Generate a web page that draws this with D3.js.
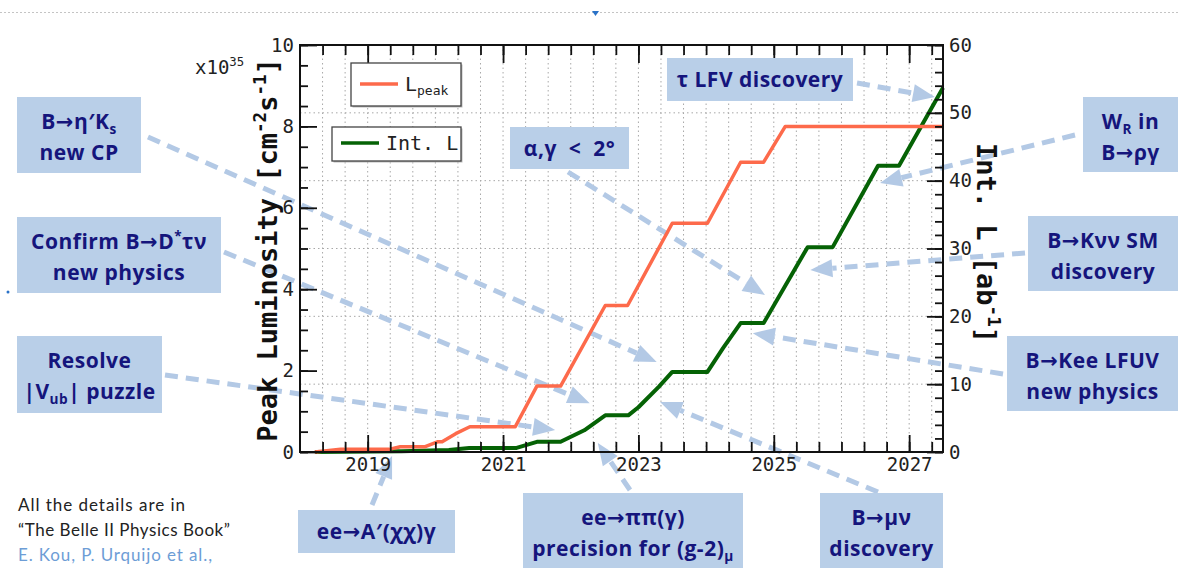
<!DOCTYPE html>
<html>
<head>
<meta charset="utf-8">
<script src="https://cdn.jsdelivr.net/npm/d3@7"></script>
<style>
  body { margin: 0; background: #fff; }
</style>
</head>
<body>
<svg id="chart" width="1178" height="569" font-family="DejaVu Sans Mono"></svg>
<script>
// peak luminosity (x10^35 cm-2 s-1), left axis
const peakYears = [2018.22, 2018.6, 2019.33, 2019.48, 2019.85, 2020.03, 2020.1, 2020.3, 2020.51, 2021.18, 2021.5, 2021.85, 2022.51, 2022.84, 2023.5, 2024.02, 2024.51, 2024.85, 2025.17, 2027.5]
const peakValues = [0, 0.07, 0.07, 0.13, 0.13, 0.25, 0.25, 0.45, 0.62, 0.62, 1.62, 1.62, 3.6, 3.6, 5.62, 5.62, 7.12, 7.12, 8.0, 8.0]

// integrated luminosity (ab-1), right axis
const intYears = [2018.22, 2019.5, 2020.2, 2020.5, 2021.2, 2021.5, 2021.85, 2022.2, 2022.51, 2022.85, 2023.0, 2023.3, 2023.5, 2024.02, 2024.25, 2024.51, 2024.85, 2025.5, 2025.87, 2026.54, 2026.85, 2027.5]
const intValues = [0, 0.1, 0.3, 0.6, 0.6, 1.5, 1.5, 3.2, 5.4, 5.4, 6.6, 9.6, 11.8, 11.8, 15.3, 19.0, 19.0, 30.2, 30.2, 42.2, 42.2, 53.7]

const xTickYears = [2019, 2021, 2023, 2025, 2027]
const xTickLabels = ['2019', '2021', '2023', '2025', '2027']
const leftTicks = [0, 2, 4, 6, 8, 10]
const rightTicks = [0, 10, 20, 30, 40, 50, 60]

// physics milestones: label lines, arrow tip in (year, peak-axis value)
const noteLabels = [
  ['B→η′K_{s}', 'new CP'],
  ['Confirm B→D^{*}τν', 'new physics'],
  ['Resolve', '|V_{ub}| puzzle'],
  ['α,γ  <  2°'],
  ['τ LFV discovery'],
  ['W_{R} in', 'B→ργ'],
  ['B→Kνν SM', 'discovery'],
  ['B→Kee LFUV', 'new physics'],
  ['ee→A′(χχ)γ'],
  ['ee→ππ(γ)', 'precision for (g-2)_{μ}'],
  ['B→μν', 'discovery']
]
const noteTipYears = [2023.27, 2022.28, 2021.77, 2024.87, 2027.38, 2026.57, 2025.54, 2024.69, 2019.36, 2022.40, 2023.32]
const noteTipValues = [2.21, 1.20, 0.54, 3.86, 8.72, 6.61, 4.47, 2.92, -0.1, 0.22, 1.23]

// layout of the boxes [x, y, w, h] and where each arrow leaves its box
const noteBoxes = [
  [17, 97, 124, 76], [17, 217, 204, 76], [17, 336, 145, 77], [510, 127, 119, 42],
  [667, 58, 186, 43], [1083, 97, 95, 75], [1028, 216, 150, 75], [1007, 336, 171, 75],
  [298, 510, 157, 43], [523, 493, 220, 75], [820, 493, 123, 75]
]
const noteStarts = [
  [148, 137], [224, 252], [165, 375], [568, 172], [857, 83], [1075, 135],
  [1025, 253], [1003, 374], [372, 505], [630, 490], [878, 492]
]

const svg = d3.select('#chart')
const m = { left: 300, right: 943, top: 45, bottom: 452 }

const x = d3.scaleLinear().domain([2018, 2027.5]).range([m.left, m.right])
const yL = d3.scaleLinear().domain([0, 10]).range([m.bottom, m.top])
const yR = d3.scaleLinear().domain([0, 60]).range([m.bottom, m.top])

const minorYears = d3.range(1, 29).map(i => 2018 + i / 3)

// faint slide separator at the top
svg.append('line')
  .attr('x1', 0).attr('x2', 1178).attr('y1', 12.5).attr('y2', 12.5)
  .attr('stroke', '#c4c4c4').attr('stroke-dasharray', '2,2')
svg.append('path').attr('d', 'M592,11 L599,11 L595.5,16 Z').attr('fill', '#2a72c8')
svg.append('circle').attr('cx', 8).attr('cy', 292).attr('r', 1.5).attr('fill', '#2a72c8')

// grid
const grid = svg.append('g').attr('stroke', '#a8a8a8').attr('stroke-dasharray', '1.5,3').attr('stroke-width', 1)
grid.selectAll('.gx').data(minorYears).enter().append('line')
  .attr('x1', d => x(d)).attr('x2', d => x(d)).attr('y1', m.top).attr('y2', m.bottom)
grid.selectAll('.gy').data([10, 20, 30, 40, 50]).enter().append('line')
  .attr('x1', m.left).attr('x2', m.right).attr('y1', d => yR(d)).attr('y2', d => yR(d))

// annotation arrows
const arrowColor = '#b3c9e5'
const arrows = svg.append('g')
noteStarts.forEach((s, i) => {
  const tx = x(noteTipYears[i])
  const ty = yL(noteTipValues[i])
  const dx = tx - s[0]
  const dy = ty - s[1]
  const len = Math.hypot(dx, dy)
  const ux = dx / len
  const uy = dy / len
  const hl = 22
  const hw = 9
  const bx = tx - ux * hl
  const by = ty - uy * hl
  arrows.append('line')
    .attr('x1', s[0]).attr('y1', s[1]).attr('x2', bx).attr('y2', by)
    .attr('stroke', arrowColor).attr('stroke-width', 5).attr('stroke-dasharray', '13,8')
  arrows.append('path')
    .attr('d', `M${tx},${ty} L${bx - uy * hw},${by + ux * hw} L${bx + uy * hw},${by - ux * hw} Z`)
    .attr('fill', arrowColor)
})

// data lines
const peakLine = d3.line().x((d, i) => x(peakYears[i])).y(d => yL(d))
const intLine = d3.line().x((d, i) => x(intYears[i])).y(d => yR(d))

svg.append('path').datum(intValues)
  .attr('d', intLine).attr('fill', 'none')
  .attr('stroke', '#056205').attr('stroke-width', 4).attr('stroke-linejoin', 'round')
svg.append('path').datum(peakValues)
  .attr('d', peakLine).attr('fill', 'none')
  .attr('stroke', '#fd6a4b').attr('stroke-width', 3.5).attr('stroke-linejoin', 'round')

// axes
function styleAxis (g) {
  g.attr('font-family', null).attr('font-size', null)
  g.select('.domain').remove()
  g.selectAll('line').attr('stroke', '#111').attr('stroke-width', 1.8)
  g.selectAll('text').attr('font-family', 'DejaVu Sans Mono').attr('font-size', 19).attr('fill', '#222')
}

svg.append('g').attr('transform', `translate(0,${m.bottom})`)
  .call(d3.axisBottom(x).tickValues(minorYears).tickSize(-10).tickFormat('')).call(styleAxis)
svg.append('g').attr('transform', `translate(0,${m.bottom})`)
  .call(d3.axisBottom(x).tickValues(xTickYears).tickSize(-17).tickPadding(6)
    .tickFormat((d, i) => xTickLabels[i])).call(styleAxis)
svg.append('g').attr('transform', `translate(0,${m.top})`)
  .call(d3.axisTop(x).tickValues(minorYears).tickSize(-10).tickFormat('')).call(styleAxis)
svg.append('g').attr('transform', `translate(0,${m.top})`)
  .call(d3.axisTop(x).tickValues(xTickYears).tickSize(-18).tickFormat('')).call(styleAxis)

svg.append('g').attr('transform', `translate(${m.left},0)`)
  .call(d3.axisLeft(yL).tickValues(d3.range(0, 10.01, 0.5)).tickSize(-8).tickFormat('')).call(styleAxis)
svg.append('g').attr('transform', `translate(${m.left},0)`)
  .call(d3.axisLeft(yL).tickValues(leftTicks).tickSize(-17).tickPadding(6)).call(styleAxis)
svg.append('g').attr('transform', `translate(${m.right},0)`)
  .call(d3.axisRight(yR).tickValues(d3.range(0, 60.01, 2)).tickSize(-8).tickFormat('')).call(styleAxis)
svg.append('g').attr('transform', `translate(${m.right},0)`)
  .call(d3.axisRight(yR).tickValues(rightTicks).tickSize(-16).tickPadding(6)).call(styleAxis)

svg.append('rect')
  .attr('x', m.left).attr('y', m.top).attr('width', m.right - m.left).attr('height', m.bottom - m.top)
  .attr('fill', 'none').attr('stroke', '#111').attr('stroke-width', 2)

// rich text helper: _{sub} and ^{sup}; arrows drawn with DejaVu Sans so they stay long
function richText (sel, str, size) {
  const re = /([_^])\{([^}]*)\}/g
  let last = 0
  let shift = 0
  let mt
  const plain = t => {
    t.split(/(→)/).filter(p => p.length).forEach(p => {
      const sp = sel.append('tspan').attr('dy', -shift).text(p)
      if (p === '→') sp.attr('font-family', 'DejaVu Sans')
      shift = 0
    })
  }
  while ((mt = re.exec(str))) {
    if (mt.index > last) plain(str.slice(last, mt.index))
    const s = mt[1] === '_' ? size * 0.22 : -size * 0.4
    sel.append('tspan').attr('dy', s - shift).attr('font-size', size * 0.65).text(mt[2])
    shift = s
    last = re.lastIndex
  }
  if (last < str.length) plain(str.slice(last))
  else if (shift) sel.append('tspan').attr('dy', -shift).text('')
}

// axis titles
const leftTitle = svg.append('text')
  .attr('transform', 'translate(277,250) rotate(-90)')
  .attr('text-anchor', 'middle').attr('font-size', 27).attr('font-weight', 'bold').attr('fill', '#111')
richText(leftTitle, 'Peak Luminosity [cm^{-2}s^{-1}]', 27)

const rightTitle = svg.append('text')
  .attr('transform', 'translate(977,243) rotate(90)')
  .attr('text-anchor', 'middle').attr('font-size', 27).attr('font-weight', 'bold').attr('fill', '#111')
richText(rightTitle, 'Int. L [ab^{-1}]', 27)

const expo = svg.append('text').attr('x', 195).attr('y', 74).attr('font-size', 19).attr('fill', '#222')
richText(expo, 'x10^{35}', 19)

// legends
const legends = [
  { box: [351, 63, 110, 43], color: '#fd6a4b', label: 'L_{peak}', lx: [360, 398], ly: 84 },
  { box: [332, 127, 129, 34], color: '#056205', label: 'Int. L', lx: [341, 379], ly: 143 }
]
legends.forEach(l => {
  svg.append('rect')
    .attr('x', l.box[0] + 1.5).attr('y', l.box[1] + 1.5).attr('width', l.box[2]).attr('height', l.box[3])
    .attr('fill', '#bbb')
  svg.append('rect')
    .attr('x', l.box[0]).attr('y', l.box[1]).attr('width', l.box[2]).attr('height', l.box[3])
    .attr('fill', '#fff').attr('stroke', '#444').attr('stroke-width', 1.3)
  svg.append('line')
    .attr('x1', l.lx[0]).attr('x2', l.lx[1]).attr('y1', l.ly).attr('y2', l.ly)
    .attr('stroke', l.color).attr('stroke-width', 3.5)
  const t = svg.append('text').attr('x', l.lx[1] + 7).attr('y', l.ly + 7)
    .attr('font-size', 20).attr('fill', '#222')
  richText(t, l.label, 20)
})

// milestone boxes
const boxFont = 21
noteBoxes.forEach((b, i) => {
  svg.append('rect')
    .attr('x', b[0]).attr('y', b[1]).attr('width', b[2]).attr('height', b[3])
    .attr('fill', '#b9cfe8')
  const lines = noteLabels[i]
  const first = lines.length === 1 ? b[1] + 29 : b[1] + 32
  lines.forEach((ln, j) => {
    const t = svg.append('text')
      .attr('x', b[0] + b[2] / 2).attr('y', first + j * 31)
      .attr('text-anchor', 'middle')
      .attr('font-family', 'Open Sans').attr('font-weight', 'bold').attr('font-size', boxFont)
      .attr('letter-spacing', 0.5).attr('xml:space', 'preserve')
      .style('white-space', 'pre')
      .attr('fill', '#15157c')
    richText(t, ln, boxFont)
  })
})

// reference note
const ref = [
  ['All the details are in', '#222', 167],
  ['“The Belle II Physics Book”', '#222', 212],
  ['E. Kou, P. Urquijo et al.,', '#6d9dd6', 194]
]
ref.forEach((r, i) => {
  svg.append('text').attr('x', 18).attr('y', 511 + i * 25)
    .attr('font-family', 'Lato').attr('font-size', 17).attr('fill', r[1])
    .attr('textLength', r[2]).attr('lengthAdjust', 'spacing').text(r[0])
})
</script>
</body>
</html>
